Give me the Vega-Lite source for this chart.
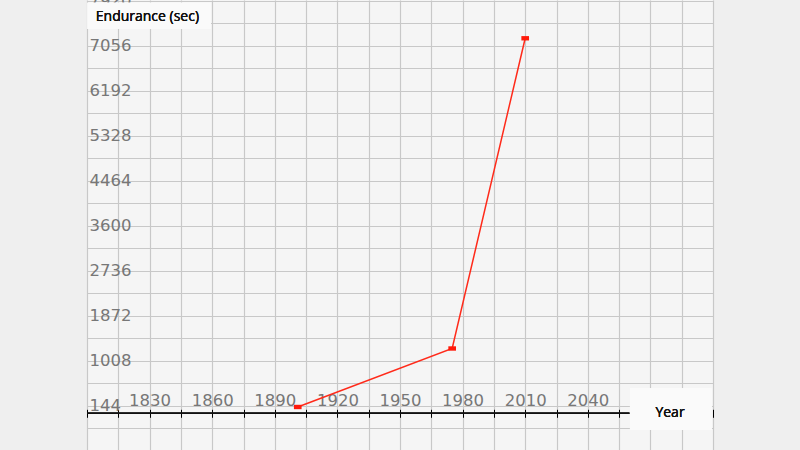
{
  "$schema": "https://vega.github.io/schema/vega-lite/v6.json",
  "width": 626,
  "height": 450,
  "autosize": "none",
  "padding": {"left": 87, "top": 0, "right": 87, "bottom": 0},
  "background": "#efefef",
  "config": {
    "view": {"fill": "#f5f5f5", "stroke": null},
    "axis": {"labelFont": "DejaVu Sans", "titleFont": "Lato"}
  },
  "data": {"values": [
    {"year": 1901, "endurance": 121},
    {"year": 1975, "endurance": 1244},
    {"year": 2010, "endurance": 7200}
  ]},
  "encoding": {
    "x": {
      "field": "year", "type": "quantitative",
      "scale": {"domain": [1800, 2100], "nice": false, "zero": false},
      "axis": {
        "title": null,
        "orient": "bottom",
        "offset": -40.7,
        "values": [1800, 1815, 1830, 1845, 1860, 1875, 1890, 1905, 1920, 1935, 1950, 1965, 1980, 1995, 2010, 2025, 2040, 2055, 2070, 2085, 2100],
        "labelExpr": "(datum.value >= 1830 && datum.value <= 2040 && (datum.value - 1830) % 30 == 0) ? format(datum.value, 'd') : ''",
        "labelFlush": false,
        "labelOverlap": false,
        "labelBaseline": "bottom",
        "labelPadding": -9,
        "labelColor": "#777777",
        "labelFontSize": 16.5,
        "domain": false,
        "ticks": true,
        "tickSize": 8,
        "tickColor": "#000000",
        "tickWidth": 1,
        "grid": true,
        "gridColor": "#c8c8c8",
        "gridWidth": 1.2
      }
    },
    "y": {
      "field": "endurance", "type": "quantitative",
      "scale": {"domain": [-705, 7935], "nice": false, "zero": false},
      "axis": {
        "title": null,
        "orient": "left",
        "values": [-288, 144, 576, 1008, 1440, 1872, 2304, 2736, 3168, 3600, 4032, 4464, 4896, 5328, 5760, 6192, 6624, 7056, 7488, 7920],
        "labelExpr": "(datum.value >= 144 && (datum.value - 144) % 864 == 0) ? format(datum.value, 'd') : ''",
        "labelOverlap": false,
        "labelAlign": "left",
        "labelBaseline": "middle",
        "labelPadding": -2,
        "labelColor": "#777777",
        "labelFontSize": 16.5,
        "domain": false,
        "ticks": false,
        "tickSize": 0,
        "grid": true,
        "gridColor": "#c8c8c8",
        "gridWidth": 1.2
      }
    }
  },
  "layer": [
    {
      "mark": {"type": "rule", "color": "#111111", "strokeWidth": 1.5},
      "encoding": {
        "x": {"datum": 1800},
        "x2": {"datum": 2060},
        "y": {"datum": 0}
      }
    },
    {
      "mark": {"type": "line", "color": "#ff2a1a", "strokeWidth": 1.5}
    },
    {
      "mark": {"type": "point", "shape": "M-1.4,-0.8H1.4V0.8H-1.4Z", "filled": true, "opacity": 1, "color": "#ff1a0a", "size": 30}
    },
    {
      "mark": {"type": "rect", "color": "#fafafa"},
      "encoding": {
        "x": {"datum": 2060.2},
        "x2": {"datum": 2099.4},
        "y": {"datum": 480},
        "y2": {"datum": -321}
      }
    },
    {
      "mark": {"type": "rect", "color": "#fafafa"},
      "encoding": {
        "x": {"datum": 1800.2},
        "x2": {"datum": 1859.4},
        "y": {"datum": 7880},
        "y2": {"datum": 7377}
      }
    },
    {
      "mark": {"type": "text", "text": "Year", "font": "Open Sans", "fontSize": 14, "fontWeight": "normal", "color": "#111111", "align": "center", "baseline": "middle"},
      "encoding": {
        "x": {"datum": 2079.4},
        "y": {"datum": 12}
      }
    },
    {
      "mark": {"type": "text", "text": "Endurance (sec)", "font": "Open Sans", "fontSize": 14, "fontWeight": "normal", "color": "#111111", "align": "left", "baseline": "middle"},
      "encoding": {
        "x": {"datum": 1804.2},
        "y": {"datum": 7603}
      }
    }
  ]
}
